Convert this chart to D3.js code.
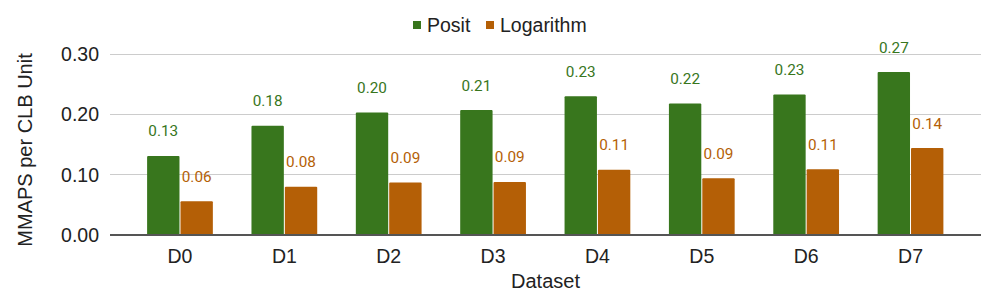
<!DOCTYPE html>
<html>
<head>
<meta charset="utf-8">
<script src="https://cdn.jsdelivr.net/npm/d3@7"></script>
<style>
html,body{margin:0;padding:0;background:#fff;}
svg{display:block;}
</style>
</head>
<body>
<svg id="chart" width="997" height="301"></svg>
<script>
const categories = ["D0","D1","D2","D3","D4","D5","D6","D7"];
const seriesNames = ["Posit","Logarithm"];
const positValues = [0.131,0.181,0.203,0.207,0.230,0.218,0.233,0.270];
const logValues = [0.056,0.080,0.087,0.088,0.108,0.094,0.109,0.144];
const yTicks = [0.00,0.10,0.20,0.30];
const colors = ["#38761d","#b45f06"];
const yTitle = "MMAPS per CLB Unit";
const xTitle = "Dataset";

const svg = d3.select("#chart");
const plotLeft = 110, plotRight = 981;
const y = d3.scaleLinear().domain([0,0.30]).range([235,54]);
const x0 = d3.scaleBand().domain(categories).range([127.8,962.7]).paddingInner(0.37).paddingOuter(0.185);
const x1 = d3.scaleBand().domain(seriesNames).range([0,x0.bandwidth()]).paddingInner(0.03);
const series = [positValues, logValues];
const fmt = d3.format(".2f");

// gridlines
svg.append("g").selectAll("line").data(yTicks.slice(1)).join("line")
  .attr("x1",plotLeft).attr("x2",plotRight)
  .attr("y1",d=>y(d)).attr("y2",d=>y(d))
  .attr("stroke","#cccccc").attr("stroke-width",1).attr("shape-rendering","crispEdges");

// y tick labels
svg.append("g").selectAll("text").data(yTicks).join("text")
  .attr("x",99).attr("y",d=>y(d)).attr("dy","0.36em")
  .attr("text-anchor","end")
  .attr("font-family","Liberation Sans, Arial, sans-serif").attr("font-size","19.5px")
  .attr("fill","#222").text(d=>fmt(d));

// bars
const groups = svg.append("g").selectAll("g").data(categories).join("g")
  .attr("transform",d=>`translate(${x0(d)},0)`);
groups.selectAll("rect").data((d,i)=>seriesNames.map((s,j)=>({s, v: series[j][i], j}))).join("rect")
  .attr("x",d=>x1(d.s)).attr("width",x1.bandwidth())
  .attr("y",d=>y(d.v)).attr("height",d=>y(0)-y(d.v))
  .attr("fill",d=>colors[d.j]).attr("rx",1);
groups.selectAll("text").data((d,i)=>seriesNames.map((s,j)=>({s, v: series[j][i], j}))).join("text")
  .attr("x",d=>x1(d.s)+x1.bandwidth()/2).attr("y",d=>y(d.v)-19.5)
  .attr("text-anchor","middle")
  .attr("font-family","Roboto, sans-serif").attr("font-size","15.3px")
  .attr("fill",d=>colors[d.j]).text(d=>fmt(d.v));

// baseline axis
svg.append("line").attr("x1",plotLeft).attr("x2",plotRight)
  .attr("y1",y(0)).attr("y2",y(0))
  .attr("stroke","#555").attr("stroke-width",1.2).attr("shape-rendering","crispEdges");

// x tick labels
svg.append("g").selectAll("text").data(categories).join("text")
  .attr("x",d=>x0(d)+x0.bandwidth()/2).attr("y",263)
  .attr("text-anchor","middle")
  .attr("font-family","Liberation Sans, Arial, sans-serif").attr("font-size","19.5px")
  .attr("fill","#222").text(d=>d);

// axis titles
svg.append("text").attr("x",(plotLeft+plotRight)/2).attr("y",288)
  .attr("text-anchor","middle")
  .attr("font-family","Liberation Sans, Arial, sans-serif").attr("font-size","20px")
  .attr("fill","#222").text(xTitle);
svg.append("text").attr("transform","translate(32,150) rotate(-90)")
  .attr("text-anchor","middle")
  .attr("font-family","Liberation Sans, Arial, sans-serif").attr("font-size","20px")
  .attr("fill","#222").text(yTitle);

// legend
const legendItems = [{name:seriesNames[0],x:413},{name:seriesNames[1],x:486}];
const lg = svg.append("g").selectAll("g").data(legendItems).join("g");
lg.append("rect").attr("x",d=>d.x).attr("y",21).attr("width",8).attr("height",8)
  .attr("fill",(d,i)=>colors[i]);
lg.append("text").attr("x",d=>d.x+14).attr("y",32)
  .attr("font-family","Liberation Sans, Arial, sans-serif").attr("font-size","19.5px")
  .attr("fill","#222").text(d=>d.name);
</script>
</body>
</html>
